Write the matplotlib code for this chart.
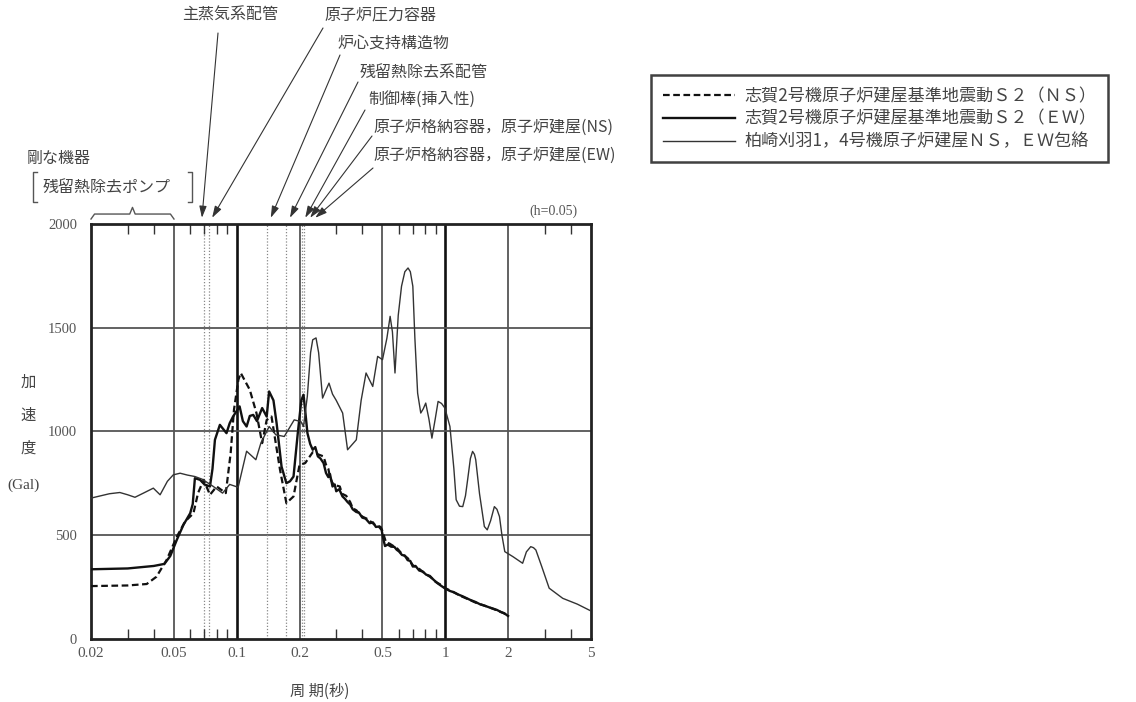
import matplotlib
matplotlib.use('Agg')
import matplotlib.pyplot as plt
from matplotlib.lines import Line2D
import numpy as np

W, H = 1136, 702
CJK = ['Noto Sans CJK JP', 'DejaVu Sans']
plt.rcParams['font.family'] = CJK

# Shika-2 reactor building Ss2 (NS), dashed
ns_period = [0.02, 0.03, 0.037, 0.0412, 0.0461, 0.0516, 0.0565, 0.062, 0.0652, 0.0694,
             0.0744, 0.0801, 0.0886, 0.0935, 0.097, 0.1018, 0.1045, 0.1155, 0.1243, 0.1324,
             0.1392, 0.1468, 0.1613, 0.173, 0.1872, 0.200, 0.213, 0.2314, 0.245, 0.2608,
             0.268, 0.275, 0.28, 0.288, 0.30, 0.312, 0.32, 0.335, 0.35, 0.36,
             0.375, 0.39, 0.40, 0.42, 0.44, 0.46, 0.49, 0.50, 0.52, 0.54,
             0.56, 0.59, 0.62, 0.66, 0.70, 0.75, 0.80, 0.85, 0.90, 0.95,
             1.0, 1.1, 1.2, 1.3, 1.4, 1.5, 1.6, 1.7, 1.8, 1.9, 2.0]
ns_acc = [255, 258, 265, 300, 381, 493, 566, 606, 703, 767,
          695, 735, 703, 896, 1105, 1249, 1282, 1201, 1089, 944,
          1056, 1072, 815, 655, 687, 839, 848, 900, 890, 880,
          840, 820, 780, 751, 740, 735, 700, 690, 660, 630,
          620, 600, 590, 580, 565, 550, 540, 520, 465, 460,
          450, 435, 410, 390, 355, 338, 315, 298, 275, 262,
          245, 225, 205, 190, 175, 165, 155, 145, 135, 125, 113]

# Shika-2 reactor building Ss2 (EW), thick solid
ew_period = [0.02, 0.03, 0.04, 0.045, 0.048, 0.0516, 0.0555, 0.0598, 0.0615, 0.063,
             0.0667, 0.070, 0.0744, 0.0765, 0.0786, 0.083, 0.0893, 0.0925, 0.096, 0.1032,
             0.107, 0.1115, 0.1155, 0.12, 0.125, 0.1324, 0.1392, 0.143, 0.150, 0.1553,
             0.164, 0.173, 0.18, 0.1872, 0.1962, 0.204, 0.209, 0.213, 0.2183, 0.225,
             0.2314, 0.238, 0.245, 0.252, 0.2608, 0.268, 0.275, 0.28, 0.288, 0.295,
             0.30, 0.31, 0.3215, 0.33, 0.34, 0.35, 0.36, 0.3745, 0.385, 0.40,
             0.415, 0.4339, 0.45, 0.465, 0.48, 0.4951, 0.505, 0.5141, 0.53, 0.55,
             0.57, 0.585, 0.60, 0.62, 0.64, 0.66, 0.68, 0.699, 0.72, 0.75,
             0.78, 0.81, 0.8434, 0.88, 0.92, 0.96, 1.0, 1.05, 1.1, 1.15,
             1.21, 1.27, 1.32, 1.4, 1.47, 1.55, 1.63, 1.7, 1.77, 1.85, 1.92, 2.0]
ew_acc = [336, 340, 352, 362, 400, 478, 550, 606, 650, 775,
          767, 745, 735, 820, 960, 1032, 992, 1040, 1072, 1121,
          1050, 1024, 1075, 1080, 1050, 1113, 1072, 1193, 1150, 1040,
          831, 751, 760, 783, 992, 1150, 1177, 1100, 992, 940,
          912, 925, 880, 870, 848, 800, 780, 795, 735, 745,
          712, 722, 687, 676, 660, 648, 625, 612, 610, 585,
          580, 558, 562, 540, 542, 526, 480, 448, 455, 445,
          444, 430, 422, 405, 402, 380, 376, 349, 352, 330,
          325, 310, 304, 285, 268, 255, 243, 232, 225, 215,
          206, 196, 188, 178, 167, 160, 152, 146, 140, 130, 124, 111]

# Kashiwazaki-Kariwa 1,4 reactor building NS/EW envelope, thin solid
kk_period = [0.02, 0.0245, 0.0275, 0.030, 0.0325, 0.036, 0.0398, 0.0429, 0.0465, 0.0496,
             0.0535, 0.058, 0.063, 0.0683, 0.0772, 0.0855, 0.0925, 0.099, 0.1015, 0.1115,
             0.1235, 0.1305, 0.143, 0.154, 0.169, 0.1886, 0.203, 0.209, 0.218, 0.226,
             0.2314, 0.240, 0.247, 0.258, 0.268, 0.277, 0.288, 0.300, 0.322, 0.340,
             0.3745, 0.395, 0.417, 0.449, 0.474, 0.500, 0.525, 0.544, 0.558, 0.574,
             0.595, 0.617, 0.640, 0.663, 0.680, 0.699, 0.715, 0.737, 0.763, 0.785,
             0.806, 0.835, 0.863, 0.895, 0.924, 0.960, 0.996, 1.053, 1.10, 1.128,
             1.17, 1.213, 1.25, 1.280, 1.32, 1.352, 1.38, 1.40, 1.46, 1.54,
             1.59, 1.65, 1.72, 1.77, 1.82, 1.87, 1.93, 2.11, 2.35, 2.45,
             2.57, 2.65, 2.72, 2.90, 3.15, 3.66, 4.3, 5.0]
kk_acc = [679, 700, 706, 695, 683, 705, 727, 695, 760, 791,
          799, 790, 783, 770, 735, 703, 745, 735, 730, 905,
          864, 944, 1024, 984, 976, 1056, 1048, 1024, 1169, 1380,
          1442, 1451, 1380, 1161, 1200, 1233, 1180, 1150, 1089, 912,
          960, 1150, 1282, 1217, 1362, 1346, 1450, 1555, 1480, 1282,
          1560, 1700, 1770, 1788, 1770, 1700, 1450, 1185, 1089, 1110,
          1137, 1060, 968, 1060, 1145, 1135, 1113, 1024, 820, 671,
          640, 638, 690, 767, 870, 904, 890, 864, 700, 542,
          526, 570, 638, 625, 590, 500, 421, 397, 365, 420,
          445, 440, 429, 350, 245, 196, 168, 135]

legend_labels = ['志賀2号機原子炉建屋基準地震動Ｓ２（ＮＳ）',
                 '志賀2号機原子炉建屋基準地震動Ｓ２（ＥＷ）',
                 '柏崎刈羽1，4号機原子炉建屋ＮＳ，ＥＷ包絡']

x_ticks = [0.02, 0.05, 0.1, 0.2, 0.5, 1, 2, 5]
x_ticklabels = ['0.02', '0.05', '0.1', '0.2', '0.5', '1', '2', '5']
y_ticks = [0, 500, 1000, 1500, 2000]
grid_periods = [0.05, 0.2, 0.5, 2]
bold_periods = [0.1, 1]
grid_acc = [500, 1000, 1500]

# natural periods of equipment (dotted lines)
equip_periods = [0.0697, 0.0736, 0.140, 0.173, 0.205, 0.2106]
rigid_range = [0.02, 0.05]

# annotation labels, arrow targets (period) and text position (px)
ann_labels = ['主蒸気系配管', '原子炉圧力容器', '炉心支持構造物', '残留熱除去系配管',
              '制御棒(挿入性)', '原子炉格納容器，原子炉建屋(NS)', '原子炉格納容器，原子炉建屋(EW)']
ann_target = [0.0681, 0.0762, 0.1456, 0.180, 0.213, 0.225, 0.238]
ann_text_xy = [(230, 15), (380, 15), (337, 43), (360, 72), (368, 99), (373, 127), (373, 155)]
ann_text_ha = ['center', 'center', 'left', 'left', 'left', 'left', 'left']
ann_tail_xy = [(218, 33), (323, 28), (340, 55), (358, 82), (365, 110), (372, 136), (373, 168)]


def fx(px):
    return px / W


def fy(py):
    return 1 - py / H


fig = plt.figure(figsize=(W / 100, H / 100), dpi=100)
ax = fig.add_axes([fx(91), fy(639), 500 / W, 415 / H])

ax.set_xscale('log')
ax.set_xlim(0.02, 5)
ax.set_ylim(0, 2000)

# grid
for p in grid_periods:
    ax.axvline(p, color='#555555', lw=1.3, zorder=1)
for p in bold_periods:
    ax.axvline(p, color='#111111', lw=1.9, zorder=1)
for a in grid_acc:
    ax.axhline(a, color='#555555', lw=1.3, zorder=1)
for p in equip_periods:
    ax.axvline(p, color='#888888', lw=0.9, ls=(0, (1, 1.5)), zorder=1)

l_ns, = ax.plot(ns_period, ns_acc, color='#111111', lw=1.6, ls=(0, (3, 1.6)), zorder=3)
l_ew, = ax.plot(ew_period, ew_acc, color='#111111', lw=1.7, zorder=3)
l_kk, = ax.plot(kk_period, kk_acc, color='#333333', lw=1.0, zorder=3)

ax.set_xticks(x_ticks)
ax.set_xticklabels(x_ticklabels, family='Liberation Serif', fontsize=11, color='#555555')
ax.set_yticks(y_ticks)
ax.set_yticklabels([str(v) for v in y_ticks], family='Liberation Serif', fontsize=10.5,
                   color='#555555')
ax.tick_params(axis='x', which='major', length=0, pad=6)
ax.tick_params(axis='x', which='minor', direction='in', top=True, bottom=True,
               length=7, width=1.0, color='#333333')
ax.tick_params(axis='y', which='both', length=0, pad=10)
ax.xaxis.set_minor_formatter(matplotlib.ticker.NullFormatter())
for s in ax.spines.values():
    s.set_linewidth(2.0)
    s.set_color('#222222')

# axis labels
for ch, py in zip(['加', '速', '度'], [382, 415, 448]):
    fig.text(fx(28), fy(py), ch, ha='center', va='center', fontsize=11, color='#444444')
fig.text(fx(23), fy(485), '(Gal)', ha='center', va='center', fontsize=11,
         family='Liberation Serif', color='#444444')
fig.text(fx(320), fy(691), '周 期(秒)', ha='center', va='center', fontsize=11,
         color='#444444')
fig.text(fx(578), fy(211), '(h=0.05)', ha='right', va='center', fontsize=10,
         family='Liberation Serif', color='#555555')

# rigid equipment note with bracket and brace
fig.text(fx(27), fy(158), '剛な機器', ha='left', va='center', fontsize=11.5, color='#444444')
fig.text(fx(43), fy(187), '残留熱除去ポンプ', ha='left', va='center', fontsize=11.5,
         color='#444444')
for xs in ([37, 33, 33, 37], [188, 192, 192, 188]):
    fig.add_artist(Line2D([fx(v) for v in xs], [fy(172), fy(172), fy(202), fy(202)],
                          color='#555555', lw=1.0))
tr = ax.get_xaxis_transform()
r0, r1 = rigid_range
rm = np.sqrt(r0 * r1)
ax.plot([r0, r0 * 1.04, rm * 0.97, rm, rm * 1.03, r1 / 1.04, r1],
        [1.012, 1.024, 1.024, 1.040, 1.024, 1.024, 1.012],
        transform=tr, color='#555555', lw=1.0, clip_on=False)

# equipment annotations
for lab, tgt, (tx, ty), ha, (ax_, ay_) in zip(ann_labels, ann_target, ann_text_xy,
                                            ann_text_ha, ann_tail_xy):
    fig.text(fx(tx), fy(ty), lab, ha=ha, va='center', fontsize=11.5, color='#444444')
    ax.annotate('', xy=(tgt, 1.015), xycoords=('data', 'axes fraction'),
                xytext=(fx(ax_), fy(ay_)), textcoords='figure fraction',
                arrowprops=dict(arrowstyle='-|>,head_length=0.7,head_width=0.22',
                                color='#333333', lw=0.8, shrinkA=0, shrinkB=0))

leg = ax.legend([l_ns, l_ew, l_kk], legend_labels, loc='upper left',
                bbox_to_anchor=(fx(651), fy(75)), bbox_transform=fig.transFigure,
                prop=dict(family=CJK, size=12.3), frameon=True, fancybox=False,
                borderaxespad=0, borderpad=0.7, handlelength=4.2, handletextpad=0.55,
                labelspacing=0.28)
leg.get_frame().set_edgecolor('#111111')
leg.get_frame().set_linewidth(1.8)
for t in leg.get_texts():
    t.set_color('#444444')

fig.savefig('out.png', dpi=100, facecolor='white')
